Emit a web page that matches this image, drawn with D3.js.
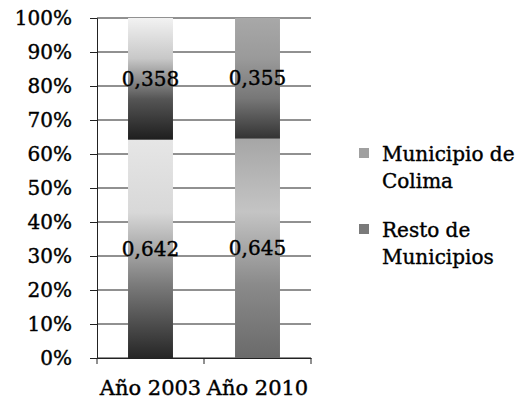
<!DOCTYPE html>
<html>
<head>
<meta charset="utf-8">
<script src="https://cdnjs.cloudflare.com/ajax/libs/d3/7.8.5/d3.min.js"></script>
<style>
  body { margin: 0; background: #fff; }
  text { font-family: "DejaVu Serif", serif; fill: #000; stroke: #000; stroke-width: 0.4px; }
</style>
</head>
<body>
<div id="chart"></div>
<script>
var years = ["Año 2003", "Año 2010"];
var series = ["Resto de Municipios", "Municipio de Colima"];
var resto = [0.642, 0.645];
var colima = [0.358, 0.355];
var yTicks = [0, 0.1, 0.2, 0.3, 0.4, 0.5, 0.6, 0.7, 0.8, 0.9, 1];
var legendLines = [["Municipio de", "Colima"], ["Resto de", "Municipios"]];

// gradient stops per bar segment (top -> bottom), grayscale scan look
var shades = {
    "Municipio de Colima|Año 2003": ["#f2f2f2", "#c8c8c8", "#555", "#1e1e1e"],
    "Municipio de Colima|Año 2010": ["#a8a8a8", "#9a9a9a", "#777", "#333"],
    "Resto de Municipios|Año 2003": ["#e6e6e6", "#d8d8d8", "#7a7a7a", "#262626"],
    "Resto de Municipios|Año 2010": ["#a6a6a6", "#c4c4c4", "#8a8a8a", "#6a6a6a"]
};
var legendFill = ["#a0a0a0", "#7a7a7a"];

var data = years.map(function(y, i) {
    return {year: y, "Resto de Municipios": resto[i], "Municipio de Colima": colima[i]};
});

var margin = {top: 18, right: 210, bottom: 42, left: 97},
    width = 521 - margin.left - margin.right,
    height = 400 - margin.top - margin.bottom;

var svg = d3.select("#chart").append("svg")
    .attr("width", 521)
    .attr("height", 400);

var defs = svg.append("defs");
Object.keys(shades).forEach(function(k, i) {
    var g = defs.append("linearGradient")
        .attr("id", "grad" + i)
        .attr("x1", 0).attr("y1", 0).attr("x2", 0).attr("y2", 1);
    shades[k].forEach(function(c, j, arr) {
        g.append("stop").attr("offset", (j / (arr.length - 1) * 100) + "%").attr("stop-color", c);
    });
});
var gradId = function(key, year) {
    return "url(#grad" + Object.keys(shades).indexOf(key + "|" + year) + ")";
};

var g = svg.append("g")
    .attr("transform", "translate(" + margin.left + "," + margin.top + ")");

var xScale = d3.scaleBand().domain(years).range([0, width]).paddingInner(0.58).paddingOuter(0.29);
var yScale = d3.scaleLinear().domain([0, 1]).range([height, 0]);

// gridlines
g.append("g")
    .selectAll("line")
    .data(yTicks)
    .enter().append("line")
    .attr("x1", 0).attr("x2", width)
    .attr("y1", d => yScale(d)).attr("y2", d => yScale(d))
    .attr("stroke", "#222")
    .attr("stroke-width", 1);

var stack = d3.stack().keys(series);
var layers = stack(data);

var layer = g.selectAll(".layer")
    .data(layers)
    .enter().append("g")
    .attr("class", "layer");

layer.selectAll("rect")
    .data(d => d.map(p => ({key: d.key, p: p})))
    .enter().append("rect")
    .attr("x", d => xScale(d.p.data.year))
    .attr("y", d => yScale(d.p[1]))
    .attr("height", d => yScale(d.p[0]) - yScale(d.p[1]))
    .attr("width", xScale.bandwidth())
    .attr("fill", d => gradId(d.key, d.p.data.year));

layer.selectAll("text")
    .data(d => d.map(p => ({key: d.key, p: p})))
    .enter().append("text")
    .attr("x", d => xScale(d.p.data.year) + xScale.bandwidth() / 2)
    .attr("y", d => yScale((d.p[0] + d.p[1]) / 2))
    .attr("dy", "0.35em")
    .attr("text-anchor", "middle")
    .style("font-size", "20px")
    .text(d => d3.format(".3f")(d.p[1] - d.p[0]).replace(".", ","));

// axes
var xAxis = d3.axisBottom(xScale).tickSize(0).tickPadding(22);
g.append("g")
    .attr("transform", "translate(0," + height + ")")
    .call(xAxis)
    .call(a => a.select(".domain").attr("stroke", "#222"))
    .selectAll("text")
    .style("font-size", "21px");

// category boundary ticks under the x axis
g.append("g")
    .selectAll("line")
    .data([0, width / 2, width])
    .enter().append("line")
    .attr("x1", d => d).attr("x2", d => d)
    .attr("y1", height).attr("y2", height + 6)
    .attr("stroke", "#222");

var yAxis = d3.axisLeft(yScale).tickValues(yTicks).tickFormat(d3.format(".0%")).tickSize(7).tickPadding(18);
g.append("g")
    .call(yAxis)
    .call(a => a.select(".domain").attr("stroke", "#222"))
    .call(a => a.selectAll(".tick line").attr("stroke", "#222"))
    .selectAll("text")
    .style("font-size", "20px");

// legend
var legend = svg.append("g")
    .attr("transform", "translate(359,0)");

var item = legend.selectAll(".item")
    .data(legendLines)
    .enter().append("g")
    .attr("class", "item")
    .attr("transform", (d, i) => "translate(0," + (148 + i * 76) + ")");

item.append("rect")
    .attr("width", 10).attr("height", 10)
    .attr("fill", (d, i) => legendFill[i]);

item.append("text")
    .attr("x", 23)
    .attr("y", 13)
    .style("font-size", "20px")
    .selectAll("tspan")
    .data(d => d)
    .enter().append("tspan")
    .attr("x", 23)
    .attr("dy", (d, i) => i ? 27 : 0)
    .text(d => d);
</script>
</body>
</html>
